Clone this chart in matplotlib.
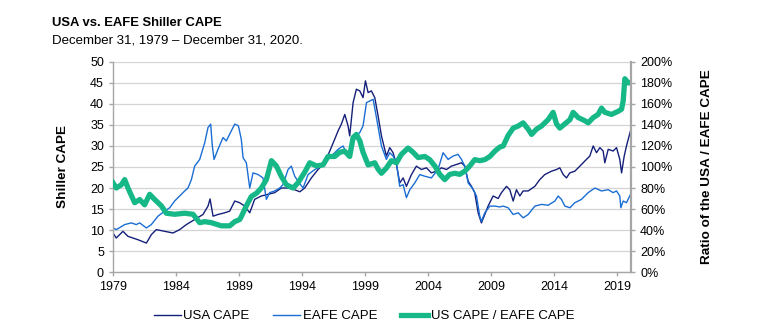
import matplotlib.pyplot as plt
from matplotlib.ticker import MultipleLocator, FixedLocator, FuncFormatter

plt.rcParams['font.family'] = ['Liberation Sans', 'DejaVu Sans']

# Monthly Shiller CAPE, sampled at turning points (x = year label position)
usa_years = [1979.0, 1979.26, 1979.79, 1980.19, 1980.98, 1981.65, 1982.04, 1982.44, 1983.10, 1983.76,
             1984.29, 1984.82, 1985.48, 1986.14, 1986.54, 1986.70, 1986.94, 1987.33, 1987.86, 1988.26,
             1988.66, 1989.05, 1989.45, 1989.85, 1990.24, 1990.77, 1991.30, 1991.83, 1992.36, 1992.89,
             1993.42, 1993.82, 1994.21, 1994.74, 1995.27, 1995.80, 1996.20, 1996.59, 1996.86, 1997.12,
             1997.39, 1997.65, 1997.78, 1998.05, 1998.31, 1998.58, 1998.84, 1999.03, 1999.24, 1999.50,
             1999.77, 2000.03, 2000.30, 2000.69, 2000.96, 2001.22, 2001.49, 2001.75, 2002.02, 2002.28,
             2002.68, 2003.07, 2003.47, 2003.87, 2004.26, 2004.66, 2005.06, 2005.46, 2005.85, 2006.25,
             2006.65, 2006.91, 2007.18, 2007.44, 2007.70, 2007.97, 2008.23, 2008.50, 2008.76, 2009.16,
             2009.56, 2009.82, 2010.22, 2010.48, 2010.75, 2011.01, 2011.28, 2011.54, 2011.94, 2012.47,
             2012.86, 2013.26, 2013.79, 2014.19, 2014.45, 2014.72, 2014.98, 2015.24, 2015.64, 2016.04,
             2016.43, 2016.83, 2017.10, 2017.36, 2017.63, 2017.89, 2018.02, 2018.29, 2018.68, 2018.95,
             2019.21, 2019.35, 2019.56, 2019.74, 2019.88, 2020.06]
usa_cape = [9.3, 8.1, 9.7, 8.5, 7.7, 6.9, 8.9, 10.1, 9.7, 9.3,
            10.1, 11.3, 12.5, 13.7, 15.7, 17.4, 13.3, 13.7, 14.1, 14.5,
            16.9, 16.5, 15.7, 14.1, 17.3, 18.1, 18.5, 18.9, 20.0, 20.0,
            19.6, 19.1, 20.0, 22.4, 24.4, 26.0, 28.8, 31.6, 33.6, 35.2,
            37.5, 34.8, 32.4, 40.3, 43.5, 43.1, 41.5, 45.5, 42.7, 43.1,
            41.5, 37.2, 32.4, 27.6, 29.6, 28.4, 25.6, 21.2, 22.4, 20.4,
            23.2, 25.2, 24.4, 24.8, 23.6, 24.0, 24.8, 24.4, 25.2, 25.6,
            26.0, 25.2, 21.6, 20.4, 18.9, 14.1, 11.7, 13.7, 15.7, 18.1,
            17.5, 18.9, 20.4, 19.6, 16.9, 19.6, 18.1, 19.3, 19.3, 20.4,
            22.0, 23.2, 24.0, 24.4, 24.8, 23.2, 22.4, 23.6, 24.0, 25.2,
            26.4, 27.6, 30.0, 28.4, 29.6, 28.8, 26.0, 29.2, 28.8, 29.6,
            26.8, 23.6, 27.6, 30.0, 31.6, 33.6]

eafe_years = [1979.0, 1979.26, 1979.93, 1980.45, 1980.85, 1981.12, 1981.65, 1982.04, 1982.57, 1983.10,
              1983.50, 1983.89, 1984.29, 1984.69, 1984.95, 1985.22, 1985.48, 1985.88, 1986.28, 1986.54,
              1986.75, 1986.88, 1987.02, 1987.33, 1987.73, 1987.99, 1988.39, 1988.66, 1988.95, 1989.18,
              1989.32, 1989.58, 1989.85, 1990.11, 1990.51, 1990.90, 1991.17, 1991.43, 1991.83, 1992.23,
              1992.49, 1992.89, 1993.15, 1993.42, 1993.68, 1994.08, 1994.48, 1995.01, 1995.53, 1995.93,
              1996.33, 1996.86, 1997.25, 1997.65, 1997.92, 1998.31, 1998.58, 1998.84, 1999.11, 1999.37,
              1999.64, 1999.90, 2000.30, 2000.69, 2000.96, 2001.22, 2001.49, 2001.75, 2002.02, 2002.28,
              2002.55, 2002.94, 2003.34, 2003.74, 2004.26, 2004.79, 2005.19, 2005.59, 2005.98, 2006.38,
              2006.65, 2006.91, 2007.18, 2007.57, 2007.84, 2008.10, 2008.23, 2008.50, 2008.90, 2009.29,
              2009.69, 2009.96, 2010.35, 2010.75, 2011.15, 2011.54, 2011.94, 2012.47, 2013.00, 2013.52,
              2014.06, 2014.32, 2014.58, 2014.85, 2015.25, 2015.64, 2016.17, 2016.70, 2017.23, 2017.76,
              2018.29, 2018.68, 2018.95, 2019.21, 2019.29, 2019.48, 2019.74, 2020.06]
eafe_cape = [10.5, 10.1, 11.3, 11.7, 11.3, 11.7, 10.5, 11.3, 13.3, 14.5,
             15.3, 16.9, 18.1, 19.3, 20.0, 22.0, 25.2, 26.8, 30.8, 34.4,
             35.2, 30.0, 26.8, 29.2, 32.0, 31.2, 33.6, 35.2, 34.8, 31.6,
             27.2, 26.0, 20.0, 23.6, 23.2, 22.4, 17.3, 18.9, 19.3, 20.0,
             20.8, 24.4, 25.2, 22.8, 21.6, 20.0, 23.2, 24.4, 25.2, 26.4,
             27.6, 29.2, 30.0, 27.6, 30.0, 32.4, 33.2, 34.8, 40.3, 40.7,
             41.1, 36.8, 30.0, 26.8, 28.4, 27.6, 26.0, 20.4, 20.8, 17.7,
             19.6, 21.2, 23.2, 22.8, 22.4, 24.4, 28.4, 26.8, 27.6, 28.0,
             26.8, 25.2, 21.2, 19.7, 18.1, 13.3, 12.1, 14.1, 15.7, 15.7,
             15.5, 15.7, 15.3, 13.7, 14.1, 12.9, 13.7, 15.7, 16.1, 15.9,
             16.9, 18.1, 17.3, 15.7, 15.3, 16.5, 17.3, 18.9, 20.0, 19.3,
             19.6, 18.9, 19.3, 18.1, 15.3, 16.9, 16.5, 18.5]

# US CAPE / EAFE CAPE, percent
ratio_years = [1979.0, 1979.26, 1979.66, 1979.93, 1980.19, 1980.72, 1981.12, 1981.51, 1981.91, 1982.31,
               1982.84, 1983.23, 1983.89, 1984.69, 1985.35, 1985.88, 1986.28, 1986.81, 1987.60, 1988.26,
               1988.66, 1989.05, 1989.19, 1989.58, 1989.98, 1990.38, 1990.77, 1991.17, 1991.57, 1991.96,
               1992.36, 1992.76, 1993.29, 1993.68, 1994.21, 1994.61, 1995.14, 1995.67, 1996.06, 1996.59,
               1996.99, 1997.39, 1997.78, 1998.05, 1998.31, 1998.58, 1998.84, 1999.24, 1999.77, 2000.03,
               2000.30, 2000.69, 2001.09, 2001.49, 2001.88, 2002.41, 2002.81, 2003.21, 2003.74, 2004.13,
               2004.53, 2004.93, 2005.32, 2005.72, 2006.12, 2006.51, 2006.91, 2007.31, 2007.70, 2008.10,
               2008.50, 2008.90, 2009.29, 2009.69, 2009.96, 2010.35, 2010.75, 2011.15, 2011.54, 2011.94,
               2012.21, 2012.60, 2013.00, 2013.52, 2013.92, 2014.19, 2014.45, 2014.85, 2015.25, 2015.51,
               2015.91, 2016.44, 2016.70, 2017.10, 2017.49, 2017.76, 2018.02, 2018.55, 2019.08, 2019.35,
               2019.48, 2019.61, 2019.88, 2020.06]
ratio_pct = [85, 80, 83, 88, 80, 66, 69, 64, 74, 69,
             63, 56, 55, 56, 55, 47, 48, 47, 44, 44,
             48, 50, 53, 63, 72, 75, 80, 88, 106, 101,
             91, 83, 80, 85, 95, 104, 101, 102, 110, 110,
             114, 115, 110, 128, 131, 125, 114, 102, 104, 98,
             94, 99, 106, 104, 112, 118, 114, 109, 110, 107,
             101, 93, 88, 93, 94, 93, 96, 101, 107, 106,
             107, 110, 115, 119, 120, 130, 137, 139, 142, 136,
             131, 136, 139, 145, 152, 141, 137, 141, 145, 152,
             147, 144, 142, 147, 150, 156, 152, 150, 153, 155,
             163, 184, 180, 180]

year_ticks = list(range(1979, 2020, 5))

fig = plt.figure(figsize=(7.83, 3.31), dpi=100)
ax = fig.add_axes([0.1443, 0.178, 0.6616, 0.635])
ax2 = ax.twinx()

l1, = ax.plot(usa_years, usa_cape, color='#14207a', lw=1.0, label='USA CAPE')
l2, = ax.plot(eafe_years, eafe_cape, color='#1a6ed4', lw=1.0, label='EAFE CAPE')
l3, = ax2.plot(ratio_years, ratio_pct, color='#17b887', lw=3.8, label='US CAPE / EAFE CAPE')

ax.set_xlim(1979, 2020.1)
ax.set_ylim(0, 50)
ax2.set_ylim(0, 200)
ax.xaxis.set_major_locator(FixedLocator(year_ticks))
ax.yaxis.set_major_locator(MultipleLocator(5))
ax2.yaxis.set_major_locator(MultipleLocator(20))
ax.xaxis.set_major_formatter(FuncFormatter(lambda v, p: f'{int(round(v))}'))
ax2.yaxis.set_major_formatter(FuncFormatter(lambda v, p: f'{int(v)}%'))

ax.grid(axis='y', color='#d4d4d4', lw=0.9)
ax.set_axisbelow(True)

for a in (ax, ax2):
    a.spines['top'].set_visible(False)
    for s in ('left', 'right', 'bottom'):
        a.spines[s].set_color('#a6a6a6')
        a.spines[s].set_linewidth(1.0)
    a.tick_params(colors='#a6a6a6', labelcolor='black', labelsize=9, length=3, width=1.0)
ax.spines['right'].set_visible(False)
ax2.spines['right'].set_linewidth(1.6)
ax2.spines['left'].set_visible(False)
ax2.spines['bottom'].set_visible(False)

ax.set_ylabel('Shiller CAPE', fontsize=9.7, fontweight='bold', labelpad=15)
ax2.set_ylabel('Ratio of the USA / EAFE CAPE', fontsize=9.7, fontweight='bold', labelpad=21)

fig.text(0.066, 0.931, 'USA vs. EAFE Shiller CAPE', fontsize=9.4, fontweight='bold', va='center')
fig.text(0.066, 0.877, 'December 31, 1979 \u2013 December 31, 2020.', fontsize=9.5, va='center')

fig.legend(handles=[l1, l2, l3], loc='center', bbox_to_anchor=(0.465, 0.045), ncol=3,
           frameon=False, fontsize=9.5, handlelength=2.05, columnspacing=1.8, handletextpad=0.2)

fig.savefig('out.png', dpi=100)
